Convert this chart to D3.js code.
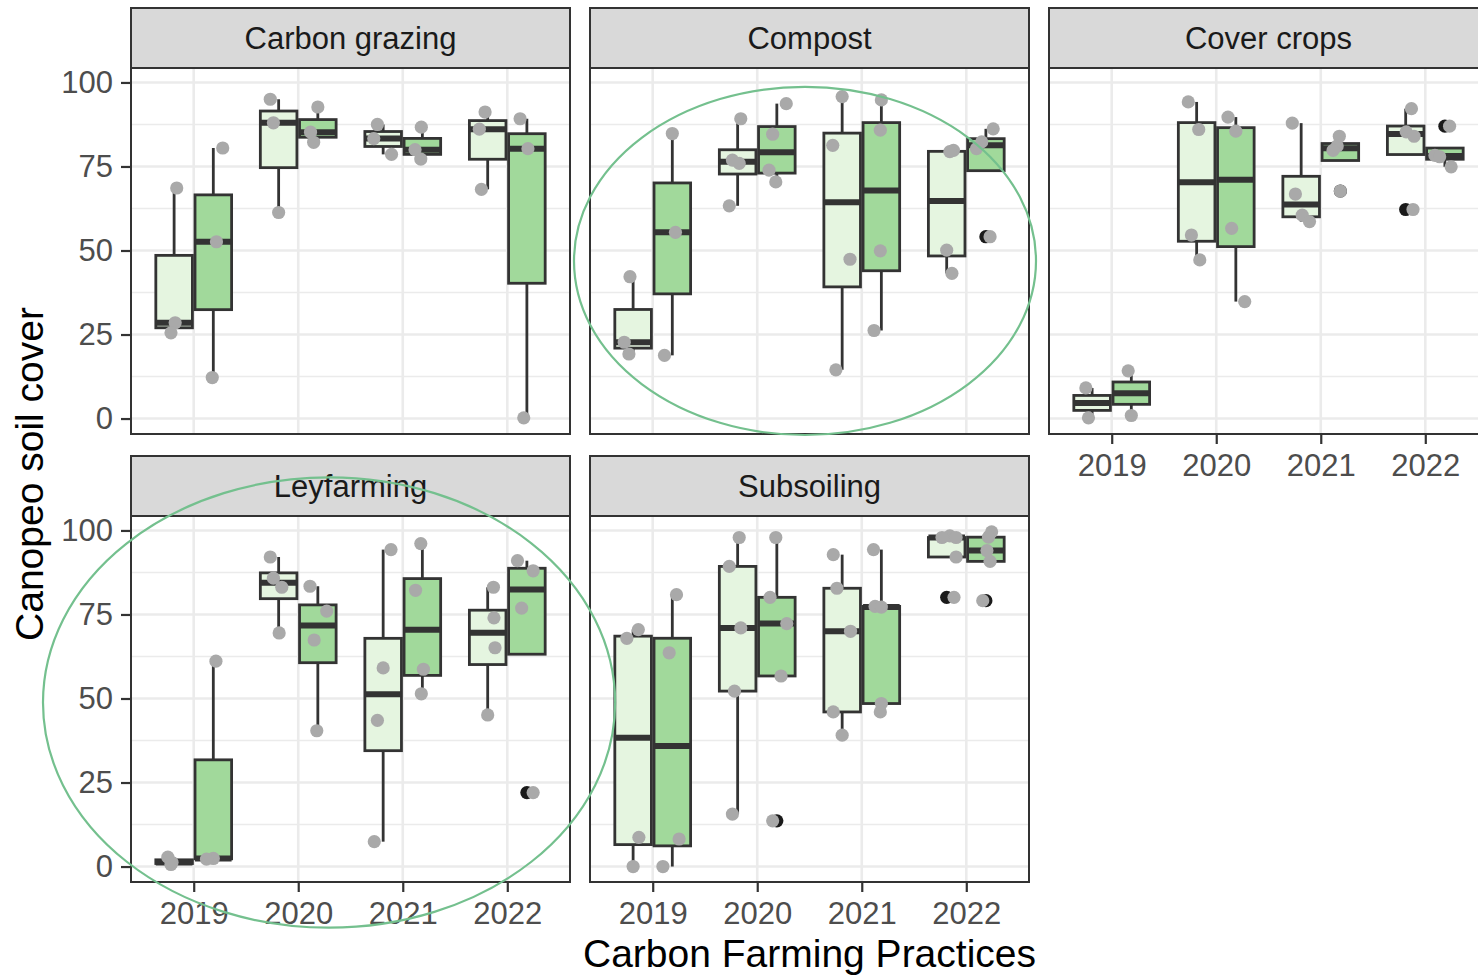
<!DOCTYPE html>
<html>
<head>
<meta charset="utf-8">
<script src="https://cdn.jsdelivr.net/npm/d3@7"></script>
<style>
html,body{margin:0;padding:0;background:#fff;}
svg{display:block;}
</style>
</head>
<body>
<svg id="chart" width="1478" height="977"></svg>
<script>
// ---------- data ----------
const facets = ["Carbon grazing", "Compost", "Cover crops", "Leyfarming", "Subsoiling"];
const years = ["2019", "2020", "2021", "2022"];
const treatments = ["Control", "Practice"];
const yTicks = [0, 25, 50, 75, 100];
const yMinorTicks = [12.5, 37.5, 62.5, 87.5];
const xTitle = "Carbon Farming Practices";
const yTitle = "Canopeo soil cover";

// [year, treatment, canopeo soil cover (%), horizontal jitter (in category units)]
const carbonGrazing = [
  ["2019","Control",68.6,0.025],["2019","Control",28.5,0.01],["2019","Control",25.5,-0.03],
  ["2019","Practice",80.5,0.09],["2019","Practice",52.6,0.03],["2019","Practice",12.2,-0.01],
  ["2020","Control",95.0,-0.08],["2020","Control",88.0,-0.05],["2020","Control",61.3,0.0],
  ["2020","Practice",92.7,0.0],["2020","Practice",85.2,-0.07],["2020","Practice",82.2,-0.04],
  ["2021","Control",87.5,-0.055],["2021","Control",83.3,-0.09],["2021","Control",78.6,0.08],
  ["2021","Practice",86.7,-0.01],["2021","Practice",80.0,-0.07],["2021","Practice",77.2,-0.015],
  ["2022","Control",91.2,-0.025],["2022","Control",86.1,-0.08],["2022","Control",68.2,-0.06],
  ["2022","Practice",89.2,-0.065],["2022","Practice",80.3,0.01],["2022","Practice",0.2,-0.03]
];
const compost = [
  ["2019","Control",42.2,-0.03],["2019","Control",22.7,-0.085],["2019","Control",19.2,-0.04],
  ["2019","Practice",84.8,0.0],["2019","Practice",55.4,0.03],["2019","Practice",18.8,-0.075],
  ["2020","Control",89.2,0.03],["2020","Control",76.9,-0.05],["2020","Control",75.9,0.015],["2020","Control",63.3,-0.08],
  ["2020","Practice",93.7,0.09],["2020","Practice",84.6,-0.04],["2020","Practice",73.9,-0.075],["2020","Practice",70.4,-0.01],
  ["2021","Control",95.8,0.0],["2021","Control",81.3,-0.09],["2021","Control",47.4,0.075],["2021","Control",14.5,-0.06],
  ["2021","Practice",94.8,0.0],["2021","Practice",85.8,-0.01],["2021","Practice",49.9,-0.01],["2021","Practice",26.2,-0.07],
  ["2022","Control",79.8,0.065],["2022","Control",79.4,0.03],["2022","Control",50.1,0.0],["2022","Control",43.2,0.05],
  ["2022","Practice",86.2,0.07],["2022","Practice",82.3,-0.04],["2022","Practice",80.3,-0.09],["2022","Practice",54.1,0.04]
];
const coverCrops = [
  ["2019","Control",9.1,-0.06],["2019","Control",0.2,-0.035],
  ["2019","Practice",14.2,-0.03],["2019","Practice",0.9,0.0],
  ["2020","Control",94.2,-0.08],["2020","Control",86.0,0.02],["2020","Control",54.6,-0.05],["2020","Control",47.2,0.03],
  ["2020","Practice",89.7,-0.075],["2020","Practice",85.5,0.0],["2020","Practice",56.6,-0.04],["2020","Practice",34.8,0.085],
  ["2021","Control",87.9,-0.085],["2021","Control",66.8,-0.055],["2021","Control",60.5,0.01],["2021","Control",58.6,0.08],
  ["2021","Practice",84.0,-0.01],["2021","Practice",81.1,-0.03],["2021","Practice",79.8,-0.07],["2021","Practice",67.7,0.0],
  ["2022","Control",92.2,0.055],["2022","Control",85.3,0.005],["2022","Control",84.0,0.08],["2022","Control",62.2,0.07],
  ["2022","Practice",87.0,0.045],["2022","Practice",78.3,-0.095],["2022","Practice",77.9,-0.05],["2022","Practice",74.9,0.06]
];
const leyfarming = [
  ["2019","Control",2.8,-0.06],["2019","Control",1.2,-0.02],["2019","Control",0.6,-0.03],
  ["2019","Practice",61.1,0.025],["2019","Practice",2.4,0.0],["2019","Practice",2.2,-0.065],
  ["2020","Control",92.1,-0.08],["2020","Control",85.8,-0.05],["2020","Control",83.1,0.03],["2020","Control",69.5,0.005],
  ["2020","Practice",83.4,-0.075],["2020","Practice",76.0,0.085],["2020","Practice",67.4,-0.035],["2020","Practice",40.4,-0.01],
  ["2021","Control",94.3,0.075],["2021","Control",59.1,0.0],["2021","Control",43.5,-0.055],["2021","Control",7.4,-0.085],
  ["2021","Practice",96.1,-0.015],["2021","Practice",82.2,-0.065],["2021","Practice",58.7,0.01],["2021","Practice",51.4,-0.01],
  ["2022","Control",83.1,0.055],["2022","Control",74.0,0.06],["2022","Control",65.1,0.07],["2022","Control",45.1,0.0],
  ["2022","Practice",91.0,-0.09],["2022","Practice",88.0,0.06],["2022","Practice",76.9,-0.05],["2022","Practice",22.0,0.06]
];
const subsoiling = [
  ["2019","Control",70.5,0.05],["2019","Control",67.9,-0.06],["2019","Control",8.7,0.055],["2019","Control",0.0,0.0],
  ["2019","Practice",80.9,0.04],["2019","Practice",63.6,-0.03],["2019","Practice",8.2,0.065],["2019","Practice",0.0,-0.09],
  ["2020","Control",97.9,0.015],["2020","Control",89.3,-0.08],["2020","Control",71.0,0.03],["2020","Control",52.2,-0.03],["2020","Control",15.6,-0.05],
  ["2020","Practice",97.9,-0.01],["2020","Practice",80.1,-0.065],["2020","Practice",72.3,0.095],["2020","Practice",56.7,0.04],["2020","Practice",13.6,-0.04],
  ["2021","Control",92.8,-0.085],["2021","Control",82.8,-0.05],["2021","Control",70.0,0.08],["2021","Control",46.0,-0.085],["2021","Control",39.1,0.0],
  ["2021","Practice",94.3,-0.075],["2021","Practice",77.4,-0.06],["2021","Practice",77.2,0.0],["2021","Practice",48.5,0.0],["2021","Practice",46.0,-0.01],
  ["2022","Control",98.4,0.03],["2022","Control",97.9,-0.045],["2022","Control",97.9,0.09],["2022","Control",92.1,0.09],["2022","Control",80.1,0.07],
  ["2022","Practice",99.6,0.055],["2022","Practice",98.0,0.025],["2022","Practice",94.0,0.01],["2022","Practice",90.8,0.04],["2022","Practice",79.1,-0.03]
];
const facetData = [carbonGrazing, compost, coverCrops, leyfarming, subsoiling];

// highlight ellipses: [facet, centre (category index), centre (value), x radius (categories), y radius (value)]
const highlights = [
  ["Compost", 1.457, 46.9, 2.21, 51.8],
  ["Leyfarming", 1.295, 48.8, 2.737, 67.0]
];

// ---------- style ----------
const fillColors = {"Control": "#e5f5e0", "Practice": "#a1d99b"};
const lineCol = "#333333";
const gridCol = "#ebebeb";
const font = "'Liberation Sans', Arial, Helvetica, sans-serif";
const ptR = 6.6;

// ---------- layout ----------
const svg = d3.select("#chart");
svg.append("rect").attr("width", 1478).attr("height", 977).attr("fill", "#fff");

const panelW = 439, panelH = 366, stripH = 60;
const colStep = 459, rowStep = 448;
const left0 = 131, top0 = 8;
const nCols = 3;

function layout(i) {
  const col = i % nCols, row = Math.floor(i / nCols);
  const x0 = left0 + col * colStep;
  const sy = top0 + row * rowStep;
  return {col, row, x0, sy, py: sy + stripH};
}

const gAll = svg.append("g");
const panels = [];

facets.forEach((name, i) => {
  const L = layout(i);
  const x = d3.scalePoint().domain(years).range([L.x0, L.x0 + panelW]).padding(0.6);
  const step = x.step();
  const y = d3.scaleLinear().domain([-4.6, 104.3]).range([L.py + panelH, L.py]);
  panels.push({name, L, x, y, step});
  const g = gAll.append("g");

  // panel background + grid
  g.append("rect").attr("x", L.x0).attr("y", L.py).attr("width", panelW).attr("height", panelH).attr("fill", "#fff");
  g.selectAll(".gminor").data(yMinorTicks).enter().append("line")
    .attr("x1", L.x0).attr("x2", L.x0 + panelW)
    .attr("y1", d => y(d)).attr("y2", d => y(d))
    .attr("stroke", gridCol).attr("stroke-width", 1.4);
  g.selectAll(".gmajor").data(yTicks).enter().append("line")
    .attr("x1", L.x0).attr("x2", L.x0 + panelW)
    .attr("y1", d => y(d)).attr("y2", d => y(d))
    .attr("stroke", gridCol).attr("stroke-width", 2.6);
  g.selectAll(".gx").data(years).enter().append("line")
    .attr("x1", d => x(d)).attr("x2", d => x(d))
    .attr("y1", L.py).attr("y2", L.py + panelH)
    .attr("stroke", gridCol).attr("stroke-width", 2.6);

  // boxplots
  const data = facetData[i];
  const dodge = 0.1875 * step, bw = 0.35 * step;
  const boxes = [];
  years.forEach(yr => {
    treatments.forEach((tr, ti) => {
      const vals = data.filter(d => d[0] === yr && d[1] === tr).map(d => d[2]).sort(d3.ascending);
      if (!vals.length) return;
      const q1 = d3.quantile(vals, 0.25), med = d3.quantile(vals, 0.5), q3 = d3.quantile(vals, 0.75);
      const iqr = q3 - q1;
      const inside = vals.filter(v => v >= q1 - 1.5 * iqr && v <= q3 + 1.5 * iqr);
      const lo = Math.min(q1, d3.min(inside)), hi = Math.max(q3, d3.max(inside));
      const outl = vals.filter(v => v < q1 - 1.5 * iqr || v > q3 + 1.5 * iqr);
      const cx = x(yr) + (ti === 0 ? -dodge : dodge);
      boxes.push({yr, tr, cx, q1, med, q3, lo, hi, outl});
    });
  });
  const bg = g.append("g");
  boxes.forEach(b => {
    bg.append("line").attr("x1", b.cx).attr("x2", b.cx).attr("y1", y(b.q3)).attr("y2", y(b.hi))
      .attr("stroke", lineCol).attr("stroke-width", 2.8);
    bg.append("line").attr("x1", b.cx).attr("x2", b.cx).attr("y1", y(b.q1)).attr("y2", y(b.lo))
      .attr("stroke", lineCol).attr("stroke-width", 2.8);
    bg.append("rect").attr("x", b.cx - bw / 2).attr("width", bw)
      .attr("y", y(b.q3)).attr("height", Math.max(0, y(b.q1) - y(b.q3)))
      .attr("fill", fillColors[b.tr]).attr("stroke", lineCol).attr("stroke-width", 2.8);
    bg.append("line").attr("x1", b.cx - bw / 2).attr("x2", b.cx + bw / 2)
      .attr("y1", y(b.med)).attr("y2", y(b.med))
      .attr("stroke", lineCol).attr("stroke-width", 6);
    b.outl.forEach(v => {
      bg.append("circle").attr("cx", b.cx).attr("cy", y(v)).attr("r", ptR).attr("fill", "#1a1a1a");
    });
  });

  // jittered points
  g.selectAll(".pt").data(data).enter().append("circle")
    .attr("cx", d => x(d[0]) + (d[1] === "Control" ? -dodge : dodge) + d[3] * step)
    .attr("cy", d => y(d[2]))
    .attr("r", ptR)
    .attr("fill", "#a9a9a9");

  // panel border
  g.append("rect").attr("x", L.x0).attr("y", L.py).attr("width", panelW).attr("height", panelH)
    .attr("fill", "none").attr("stroke", lineCol).attr("stroke-width", 2);

  // strip
  g.append("rect").attr("x", L.x0).attr("y", L.sy).attr("width", panelW).attr("height", stripH)
    .attr("fill", "#d9d9d9").attr("stroke", lineCol).attr("stroke-width", 2);
  g.append("text").attr("x", L.x0 + panelW / 2).attr("y", L.sy + stripH / 2 + 10.8)
    .attr("text-anchor", "middle").attr("font-family", font).attr("font-size", 31)
    .attr("fill", "#1a1a1a").text(name);

  // axes: y on first column, x on bottom-most panel of each column
  const axisStyle = sel => {
    sel.select(".domain").remove();
    sel.selectAll(".tick line").attr("stroke", lineCol).attr("stroke-width", 2.2);
    sel.selectAll(".tick text").attr("font-family", font).attr("font-size", 31).attr("fill", "#4d4d4d");
  };
  if (L.col === 0) {
    const ax = g.append("g").attr("transform", `translate(${L.x0},0)`)
      .call(d3.axisLeft(y).tickValues(yTicks).tickSize(10).tickPadding(8));
    axisStyle(ax);
  }
  const below = i + nCols;
  if (below >= facets.length) {
    const ax = g.append("g").attr("transform", `translate(0,${L.py + panelH})`)
      .call(d3.axisBottom(x).tickSize(10).tickPadding(9.5));
    axisStyle(ax);
  }
});

// axis titles
svg.append("text").attr("x", left0 + (nCols * colStep - 20) / 2).attr("y", 967)
  .attr("text-anchor", "middle").attr("font-family", font).attr("font-size", 39)
  .attr("fill", "#000").text(xTitle);
svg.append("text").attr("transform", "translate(43,474) rotate(-90)")
  .attr("text-anchor", "middle").attr("font-family", font).attr("font-size", 39)
  .attr("fill", "#000").text(yTitle);

// highlight ellipses
highlights.forEach(h => {
  const p = panels.find(pp => pp.name === h[0]);
  const cx = p.x(years[0]) + h[1] * p.step;
  const cy = p.y(h[2]);
  const rx = h[3] * p.step;
  const ry = Math.abs(p.y(0) - p.y(h[4]));
  svg.append("ellipse").attr("cx", cx).attr("cy", cy).attr("rx", rx).attr("ry", ry)
    .attr("fill", "none").attr("stroke", "#74c08e").attr("stroke-width", 2.2);
});
</script>
</body>
</html>
